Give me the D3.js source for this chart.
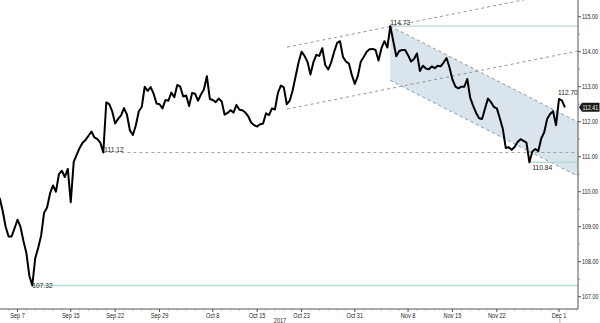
<!DOCTYPE html>
<html><head><meta charset="utf-8">
<script src="https://cdn.jsdelivr.net/npm/d3@7/dist/d3.min.js"></script>
<style>
html,body{margin:0;padding:0;background:#fff;}
svg{display:block;font-family:"Liberation Sans",Arial,sans-serif;}
</style></head>
<body>
<svg id="chart" width="600" height="323"></svg>
<script>
// ---- DATA ----
const seriesStart = "2017-09-05";   // first bar (8-hour bars, 3 per trading day)
const barsPerDay = 3;
const closes = [
109.82,109.45,109.00,108.72,108.72,108.95,109.20,109.00,108.60,108.25,
107.60,107.32,108.10,108.40,108.75,109.40,109.55,109.95,110.18,110.00,
110.50,110.60,110.42,110.65,109.70,110.85,111.05,111.25,111.40,111.48,
111.60,111.72,111.55,111.50,111.40,111.12,112.55,112.50,112.30,111.95,
112.08,112.18,112.39,112.20,111.75,111.62,111.90,112.30,112.42,113.00,
112.88,112.99,112.80,112.52,112.50,112.38,112.62,112.60,112.83,112.70,
113.05,113.00,112.72,112.75,112.45,112.82,112.80,112.60,112.78,112.92,
113.30,112.65,112.62,112.56,112.66,112.58,112.20,112.25,112.33,112.26,
112.48,112.34,112.33,112.26,112.15,111.97,111.90,111.86,111.93,111.95,
112.24,112.19,112.38,112.35,112.82,113.03,112.98,112.50,112.60,112.90,
113.30,113.70,114.00,113.88,113.71,113.35,113.70,113.91,113.88,114.10,
113.62,113.49,113.69,113.99,114.25,114.30,113.85,113.72,113.66,113.33,
113.08,113.30,113.71,113.85,114.00,114.07,114.08,114.05,113.75,114.10,
114.30,114.12,114.73,114.30,113.87,114.02,114.05,114.05,113.90,113.72,
113.79,113.95,113.45,113.60,113.52,113.50,113.58,113.53,113.60,113.58,
113.69,113.82,113.55,113.20,113.00,112.95,113.00,113.00,113.22,112.68,
112.45,112.25,112.10,112.08,112.38,112.66,112.56,112.42,112.38,112.10,
111.80,111.25,111.27,111.20,111.28,111.42,111.50,111.45,111.40,110.84,
111.15,111.22,111.16,111.52,111.70,112.08,112.22,112.30,111.90,112.65,
112.60,112.41
];
const xTickDates  = ["2017-09-07","2017-09-15","2017-09-22","2017-09-29","2017-10-08","2017-10-15",
                     "2017-10-23","2017-10-31","2017-11-08","2017-11-15","2017-11-22","2017-12-01"];
const xTickLabels = ["Sep 7","Sep 15","Sep 22","Sep 29","Oct 8","Oct 15",
                     "Oct 23","Oct 31","Nov 8","Nov 15","Nov 22","Dec 1"];
const yearLabel = "2017";
const yTicks = [107,108,109,110,111,112,113,114,115];
// horizontal levels: value, bar where it starts
const levelValues = [107.32, 111.12, 114.73, 110.84];
const levelFromBar = [11, 35, 132, 179];
// trend lines: [tradingDayStart, priceStart, tradingDayEnd, priceEnd]
const descUpper = [42, 114.73, 63.14, 111.99];
const descLower = [42, 113.18, 63.14, 110.44];
const riseUpper = [30.36, 114.13, 63.14, 115.79];
const riseLower = [30.36, 112.36, 63.14, 114.02];
const highLabel = 112.70, highBar = 189;
const lastPrice = 112.41;

// ---- helpers ----
function tradingIndex(s){
  const d = new Date(s+"T00:00:00Z"), b = new Date("2017-09-07T00:00:00Z");
  let n = 0;
  if (d >= b){ for (let t=new Date(b); t<d; t.setUTCDate(t.getUTCDate()+1)){ const w=t.getUTCDay(); if(w!==0&&w!==6) n++; } }
  else { for (let t=new Date(d); t<b; t.setUTCDate(t.getUTCDate()+1)){ const w=t.getUTCDay(); if(w!==0&&w!==6) n--; } }
  return n;
}
const day0 = tradingIndex(seriesStart);
const barDay = i => day0 + i/barsPerDay;

// ---- layout ----
const svg = d3.select("#chart");
const plotR = 578, plotB = 309;
const x = d3.scaleLinear().domain([-1.97, 63.14]).range([0, plotR]);
const y = d3.scaleLinear().domain([106.649, 115.477]).range([plotB, 0]);

svg.append("defs").append("clipPath").attr("id","clip")
  .append("rect").attr("x",0).attr("y",0).attr("width",plotR).attr("height",plotB);
const g = svg.append("g").attr("clip-path","url(#clip)");

// descending channel shading
g.append("path")
  .attr("d", d3.line()([
    [x(descUpper[0]), y(descUpper[1])],[x(descUpper[2]), y(descUpper[3])],
    [x(descLower[2]), y(descLower[3])],[x(descLower[0]), y(descLower[1])]]))
  .attr("fill","#d9e4ec").attr("stroke","none");

// trend lines
[descUpper, descLower, riseUpper, riseLower].forEach(t=>{
  g.append("line")
    .attr("x1", x(t[0])).attr("y1", y(t[1])).attr("x2", x(t[2])).attr("y2", y(t[3]))
    .attr("stroke","#8a8a8a").attr("stroke-width",0.9).attr("stroke-dasharray","3,3");
});

// levels
const levelStyle = [
  {stroke:"#b5ddd6", dash:null, w:1.4},
  {stroke:"#9a9a9a", dash:"3,3", w:0.9},
  {stroke:"#b5ddd6", dash:null, w:1.4},
  {stroke:"#b5ddd6", dash:null, w:1.4}
];
levelValues.forEach((v,k)=>{
  g.append("line")
    .attr("x1", x(barDay(levelFromBar[k]))).attr("x2", plotR)
    .attr("y1", y(v)).attr("y2", y(v))
    .attr("stroke", levelStyle[k].stroke).attr("stroke-width", levelStyle[k].w)
    .attr("stroke-dasharray", levelStyle[k].dash);
});

// price line
g.append("path")
  .datum(closes)
  .attr("d", d3.line().x((d,i)=>x(barDay(i))).y(d=>y(d)))
  .attr("fill","none").attr("stroke","#000").attr("stroke-width",2)
  .attr("stroke-linejoin","round");

// narrow text helper (horizontal squeeze via transform)
function ntext(parent, txt, px, py, size, sx, fill, anchor){
  return parent.append("text")
    .attr("transform", `translate(${px},${py}) scale(${sx},1)`)
    .attr("font-size", size).attr("fill", fill).attr("text-anchor", anchor || "start")
    .text(txt);
}

// level labels
ntext(svg, levelValues[0].toFixed(2), x(barDay(levelFromBar[0])), y(levelValues[0])+2.5, 7, 0.95, "#222");
ntext(svg, levelValues[1].toFixed(2), x(barDay(levelFromBar[1]))+1, y(levelValues[1])-1, 7, 0.95, "#222");
ntext(svg, levelValues[2].toFixed(2), x(barDay(levelFromBar[2])), y(levelValues[2])-1.5, 7, 0.95, "#222");
ntext(svg, levelValues[3].toFixed(2), x(barDay(levelFromBar[3]))+3, y(levelValues[3])+8, 7, 0.95, "#222");
ntext(svg, highLabel.toFixed(2), x(barDay(highBar))-1, y(highLabel)-2.5, 7, 0.95, "#222");

// y axis
svg.append("line").attr("x1",plotR).attr("x2",plotR).attr("y1",0).attr("y2",plotB)
  .attr("stroke","#555").attr("stroke-width",1);
yTicks.forEach(v=>{
  svg.append("line").attr("x1",plotR).attr("x2",plotR+3).attr("y1",y(v)).attr("y2",y(v))
    .attr("stroke","#555");
  ntext(svg, v.toFixed(2), plotR+4, y(v)+2.3, 6.6, 0.82, "#222");
});
d3.range(106.5, 115.5, 0.5).filter(v=>v%1!==0).forEach(v=>{
  if (y(v) > 0 && y(v) < plotB)
    svg.append("line").attr("x1",plotR).attr("x2",plotR+2).attr("y1",y(v)).attr("y2",y(v))
      .attr("stroke","#777").attr("stroke-width",0.7);
});
// current price tag
const ty = y(lastPrice);
svg.append("path")
  .attr("d", `M${plotR+1},${ty} L${plotR+4},${ty-4.5} L599.5,${ty-4.5} L599.5,${ty+4.5} L${plotR+4},${ty+4.5} Z`)
  .attr("fill","#1a1a1a");
ntext(svg, lastPrice.toFixed(2), plotR+4.5, ty+2.4, 6.6, 0.8, "#fff");

// x axis
svg.append("line").attr("x1",0).attr("x2",plotR).attr("y1",plotB).attr("y2",plotB)
  .attr("stroke","#555").attr("stroke-width",1);
d3.range(-1, 64).forEach(d=>{
  svg.append("line").attr("x1",x(d)).attr("x2",x(d)).attr("y1",plotB).attr("y2",plotB+1.5)
    .attr("stroke","#888").attr("stroke-width",0.7);
});
xTickDates.forEach((s,k)=>{
  const px = x(tradingIndex(s));
  svg.append("line").attr("x1",px).attr("x2",px).attr("y1",plotB).attr("y2",plotB+3)
    .attr("stroke","#555");
  ntext(svg, xTickLabels[k], px, plotB+8.5, 6.6, 0.85, "#222", "middle");
});
ntext(svg, yearLabel, 280, plotB+13.5, 6.6, 0.85, "#222", "middle");
// current bar marker below axis
const lastX = x(barDay(closes.length-1)) - 5;
svg.append("line").attr("x1",lastX).attr("x2",lastX).attr("y1",plotB+9).attr("y2",323)
  .attr("stroke","#999").attr("stroke-width",0.8);
</script>
</body></html>
